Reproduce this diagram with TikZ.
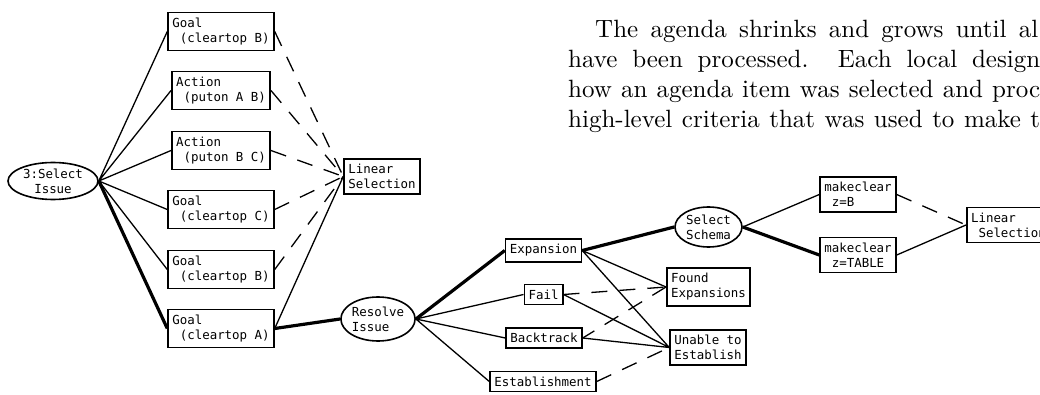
\documentclass[tikz,border=0pt]{standalone}
\usepackage{fontspec}
\setmonofont{DejaVu Sans Mono}
\newfontfamily\prosefont{lmroman10-regular.otf}
\usepackage{tikz}
\usetikzlibrary{shapes.geometric}
\tikzstyle{agendabox}=[rectangle, draw, line width=1.6pt, inner xsep=4.2pt, inner ysep=5.3pt, align=left, font=\fontsize{12.45}{15}\selectfont\ttfamily]
\tikzstyle{decision}=[ellipse, draw, line width=1.6pt, inner sep=0pt, align=left, font=\fontsize{12.45}{15}\selectfont\ttfamily]
\tikzstyle{link}=[line width=1.3pt]
\tikzstyle{chosen}=[line width=3.2pt]
\tikzstyle{altlink}=[line width=1.3pt, dash pattern=on 16pt off 12pt]
\tikzstyle{prose}=[anchor=base west, inner sep=0pt, font=\prosefont\fontsize{25}{30}\selectfont]
\newcommand{\ind}{\hphantom{x}}

\begin{document}
\begin{tikzpicture}[x=1pt, y=-1pt]
    \path[use as bounding box, fill=white] (0,0) rectangle (1040,395);
    % running text of the page
    \node[prose] (p1) at (595,38) {\makebox[443pt][s]{The agenda shrinks and grows until al}};
    \node[prose] (p2) at (568,68) {\makebox[472pt][s]{have been processed.\ \ Each local design}};
    \node[prose] (p3) at (568,98) {\makebox[472pt][s]{how an agenda item was selected and proc}};
    \node[prose] (p4) at (568,128) {\makebox[472pt][s]{high-level criteria that was used to make t}};
    % left part
    \node[decision, align=center, minimum width=90pt, minimum height=37pt] (si) at (53,181) {3:Select\\Issue};
    \node[agendabox] (g1) at (221,31.5) {Goal\\\ind(cleartop B)};
    \node[agendabox] (a1) at (221,90.5) {Action\\\ind(puton A B)};
    \node[agendabox] (a2) at (221,150.5) {Action\\\ind(puton B C)};
    \node[agendabox] (g2) at (221,209.5) {Goal\\\ind(cleartop C)};
    \node[agendabox] (g3) at (221,269.5) {Goal\\\ind(cleartop B)};
    \node[agendabox] (g4) at (221,328.5) {Goal\\\ind(cleartop A)};
    \node[agendabox] (ls1) at (382,176.5) {Linear\\Selection};
    \draw[link]
        (si.east) -- (g1.west)
        (si.east) -- (a1.west)
        (si.east) -- (a2.west)
        (si.east) -- (g2.west)
        (si.east) -- (g3.west)
        (g4.east) -- (ls1.west)
    ;
    \draw[chosen] (si.east) -- (g4.west);
    \draw[altlink]
        (g1.east) -- (ls1.west)
        (a1.east) -- (ls1.west)
        (a2.east) -- (ls1.west)
        (g2.east) -- (ls1.west)
        (g3.east) -- (ls1.west)
    ;
    % middle part
    \node[decision, minimum width=68pt, minimum height=44pt] (ri) at (378,319) {Resolve\\Issue};
    \node[agendabox] (ex) at (543.5,250.5) {Expansion};
    \node[agendabox] (fl) at (543.5,294.5) {Fail};
    \node[agendabox] (bt) at (544,338) {Backtrack};
    \node[agendabox] (es) at (543,381.5) {Establishment};
    \node[decision, minimum width=67pt, minimum height=40pt] (ss) at (708.5,227) {Select\\Schema};
    \node[agendabox] (fe) at (708.5,287) {Found\\Expansions};
    \node[agendabox] (ue) at (708,347.5) {Unable to\\Establish};
    \draw[chosen]
        (g4.east) -- (ri.west)
        (ri.east) -- (ex.west)
        (ex.east) -- (ss.west)
    ;
    \draw[link]
        (ri.east) -- (fl.west)
        (ri.east) -- (bt.west)
        (ri.east) -- (es.west)
        (ex.east) -- (fe.west)
        (ex.east) -- (ue.west)
        (fl.east) -- (ue.west)
        (bt.east) -- (ue.west)
    ;
    \draw[altlink]
        (fl.east) -- (fe.west)
        (fe.west) -- (bt.east)
        (es.east) -- (ue.west)
    ;
    % right part
    \node[agendabox] (mb) at (858,194.5) {makeclear\\\ind z=B};
    \node[agendabox] (mt) at (858,255) {makeclear\\\ind z=TABLE};
    \node[agendabox, anchor=west] (ls2) at (966,225) {Linear\\\ind Selection};
    \draw[link]
        (ss.east) -- (mb.west)
        (mt.east) -- (ls2.west)
    ;
    \draw[chosen] (ss.east) -- (mt.west);
    \draw[altlink] (mb.east) -- (ls2.west);
\end{tikzpicture}
\end{document}
